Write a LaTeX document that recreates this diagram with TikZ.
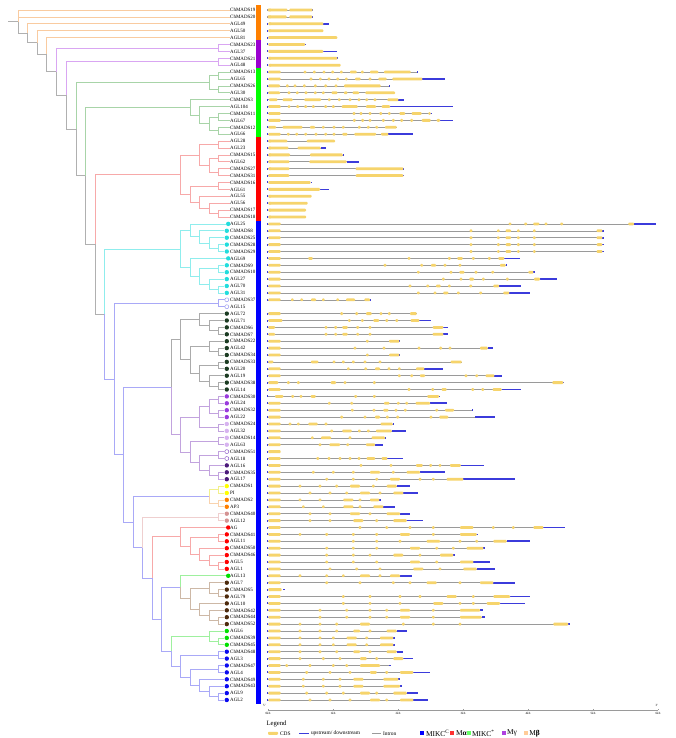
\documentclass[tikz,border=0pt]{standalone}
\usepackage{fontspec}
\setmainfont{Liberation Serif}
\definecolor{tGray}{HTML}{B0B0B0}
\definecolor{tOr}{HTML}{F9CBA0}
\definecolor{tPu}{HTML}{D9A6F2}
\definecolor{tGr}{HTML}{A8D4A8}
\definecolor{tRe}{HTML}{F7A9A9}
\definecolor{tCy}{HTML}{8FEDED}
\definecolor{tBl}{HTML}{A9A9F7}
\definecolor{tDg}{HTML}{ABABAB}
\definecolor{tEp}{HTML}{C2A3DE}
\definecolor{tYe}{HTML}{F2F08C}
\definecolor{tOrb}{HTML}{F9D3AE}
\definecolor{tPk}{HTML}{EFCFCF}
\definecolor{tBr}{HTML}{CDB8A6}
\definecolor{tGrb}{HTML}{9EF09E}
\definecolor{oCy}{HTML}{22DDDD}
\definecolor{oDg}{HTML}{1B3B22}
\definecolor{oPu}{HTML}{9A3BDD}
\definecolor{oLa}{HTML}{D7B3F0}
\definecolor{oDp}{HTML}{4B1A7A}
\definecolor{oYe}{HTML}{FFFF00}
\definecolor{oOr}{HTML}{FF8000}
\definecolor{oRo}{HTML}{D49393}
\definecolor{oRe}{HTML}{FF0000}
\definecolor{oGr}{HTML}{00E000}
\definecolor{oBr}{HTML}{4D2A0C}
\definecolor{oBl}{HTML}{0A0AF0}
\definecolor{oOl}{HTML}{9C9CF0}
\definecolor{oOp}{HTML}{8E5CC8}
\definecolor{exonC}{HTML}{F6D46C}
\definecolor{utrC}{HTML}{3B3BDB}
\definecolor{intronC}{HTML}{9A9A9A}
\definecolor{barOr}{HTML}{FF8000}
\definecolor{barPu}{HTML}{9B00D0}
\definecolor{barGr}{HTML}{00FF00}
\definecolor{barRe}{HTML}{FF0000}
\definecolor{barBl}{HTML}{0000FF}
\definecolor{lgBl}{HTML}{0000FF}
\definecolor{lgRe}{HTML}{FF3030}
\definecolor{lgGr}{HTML}{66FF66}
\definecolor{lgPu}{HTML}{B040E0}
\definecolor{lgPe}{HTML}{FFCC99}
\tikzset{
  trl/.style={line width=0.75pt},
  gry/.style={trl,draw=tGray},
  orE/.style={trl,draw=tOr},
  puE/.style={trl,draw=tPu},
  grE/.style={trl,draw=tGr},
  reE/.style={trl,draw=tRe},
  cyE/.style={trl,draw=tCy},
  blE/.style={trl,draw=tBl},
  dgE/.style={trl,draw=tDg},
  epE/.style={trl,draw=tEp},
  yeE/.style={trl,draw=tYe},
  orbE/.style={trl,draw=tOrb},
  pkE/.style={trl,draw=tPk},
  brE/.style={trl,draw=tBr},
  grbE/.style={trl,draw=tGrb},
  lab/.style={anchor=west,inner sep=0.4pt,font=\fontsize{5}{5}\selectfont,text=black},
  leafdot/.style={circle,inner sep=0pt,minimum size=4.4pt,draw=none},
  dcy/.style={fill=oCy}, ddg/.style={fill=oDg}, dpu/.style={fill=oPu},
  dla/.style={fill=oLa}, ddp/.style={fill=oDp}, dye/.style={fill=oYe},
  dor/.style={fill=oOr}, dro/.style={fill=oRo}, dre/.style={fill=oRe},
  dgr/.style={fill=oGr}, dbr/.style={fill=oBr}, dbl/.style={fill=oBl},
  dol/.style={fill=white,draw=oOl,line width=0.5pt,minimum size=4pt},
  dop/.style={fill=white,draw=oOp,line width=0.5pt,minimum size=4pt},
  exon/.style={fill=exonC,rounded corners=0.9pt},
  utr/.style={fill=utrC},
  intron/.style={draw=intronC,line width=0.6pt},
  small/.style={inner sep=0.3pt,font=\fontsize{3.2}{3.2}\selectfont},
  legs/.style={anchor=west,inner sep=0.3pt,font=\fontsize{5.4}{5.4}\selectfont},
  legb/.style={anchor=west,inner sep=0.3pt,font=\fontsize{7.4}{7.4}\selectfont},
}
\newcommand\G[5]{%
  \pgfmathsetmacro\gy{-(10+(#1-1)*6.9)}%
  \begin{scope}[shift={(260,\gy)},xscale=1/3]
    \draw[intron] (25,0) -- (#2,0);
    \foreach \a/\b in {#5} {\fill[utr] (\a,-0.85) rectangle (\b,0.85);}
    \fill[utr] (21,-1) rectangle (25,1);
    \foreach \a/\b in {#3} {\fill[exon] (\a,-1.4) rectangle (\b,1.4);}
    \foreach \d in {#4} {\fill[exon] (\d-4,-1.4) rectangle (\d+4,1.4);}
  \end{scope}}
\begin{document}
\begin{tikzpicture}[x=1pt,y=1pt]
\useasboundingbox (0,0) rectangle (676,-738);
\fill[white] (0,0) rectangle (676,-738);
% labels
\foreach \n [count=\i] in {ChMADS19,ChMADS20,AGL49,AGL50,AGL81,ChMADS23,AGL37,ChMADS21,AGL48,ChMADS13,AGL65,ChMADS26,AGL30,ChMADS3,AGL104,ChMADS11,AGL67,ChMADS12,AGL66,AGL28,AGL23,ChMADS15,AGL62,ChMADS27,ChMADS31,ChMADS16,AGL61,AGL55,AGL56,ChMADS17,ChMADS18,AGL25,ChMADS8,ChMADS25,ChMADS28,ChMADS29,AGL69,ChMADS9,ChMADS10,AGL27,AGL70,AGL31,ChMADS37,AGL15,AGL72,AGL71,ChMADS6,ChMADS7,ChMADS22,AGL42,ChMADS34,ChMADS33,AGL20,AGL19,ChMADS38,AGL14,ChMADS30,AGL24,ChMADS32,AGL22,ChMADS24,AGL32,ChMADS14,AGL63,ChMADS51,AGL18,AGL16,ChMADS35,AGL17,ChMADS1,PI,ChMADS2,AP3,ChMADS40,AGL12,AG,ChMADS41,AGL11,ChMADS50,ChMADS46,AGL5,AGL1,AGL13,AGL7,ChMADS5,AGL79,AGL10,ChMADS42,ChMADS44,ChMADS52,AGL6,ChMADS39,ChMADS45,ChMADS48,AGL3,ChMADS47,AGL4,ChMADS49,ChMADS43,AGL9,AGL2}{
  \pgfmathsetmacro\yy{-(10+(\i-1)*6.9)}
  \node[lab] (L\i) at (229.6,\yy) {\n};
}
% leaf dots
\foreach \a/\b/\s in {32/42/dcy,43/44/dol,45/56/ddg,57/60/dpu,61/64/dla,65/66/dop,67/69/ddp,70/71/dye,72/73/dor,74/75/dro,76/82/dre,83/83/dgr,84/90/dbr,91/93/dgr,94/101/dbl}{
  \foreach \i in {\a,...,\b}{
    \pgfmathsetmacro\yy{-(10+(\i-1)*6.9)}
    \pgfmathsetmacro\xx{(\i==32 || \i==37 || \i==76 || \i==83) ? 228.2 : 226.8}
    \node[leafdot,\s] (o\i) at (\xx,\yy) {};
  }
}
% internal nodes
\coordinate (Rs) at (8.3,-21.7);
\coordinate (R0) at (18.3,-21.7);
\coordinate (Na) at (27.7,-33.25);
\coordinate (Nb) at (37.3,-42.7);
\coordinate (Nc) at (46.7,-54.65);
\coordinate (Nd) at (56.7,-71.7);
\coordinate (P1) at (218.3,-47.95);
\coordinate (Ne) at (66.7,-95.4);
\coordinate (P2) at (218.3,-61.75);
\coordinate (Nf) at (76,-129.1);
\coordinate (G1) at (209.3,-82.45);
\coordinate (g1a) at (218.3,-75.55);
\coordinate (g1b) at (218.3,-89.35);
\coordinate (Ng) at (85.7,-175.8);
\coordinate (G2) at (190,-107.45);
\coordinate (G2b) at (199.3,-115.2);
\coordinate (G2c) at (209.3,-123.85);
\coordinate (g2a) at (218.3,-116.95);
\coordinate (g2b) at (218.3,-130.75);
\coordinate (Nh) at (95,-244.2);
\coordinate (R) at (180,-174.5);
\coordinate (R1) at (199.3,-154.9);
\coordinate (r1) at (218.3,-144.55);
\coordinate (R1b) at (209.3,-165.25);
\coordinate (r2) at (218.3,-158.35);
\coordinate (r3) at (218.3,-172.15);
\coordinate (R2) at (190,-194.15);
\coordinate (r4) at (218.3,-185.95);
\coordinate (R2b) at (199.3,-202.34);
\coordinate (R2c) at (209.3,-208.38);
\coordinate (r5) at (218.3,-213.55);
\coordinate (Ni) at (104.3,-313.9);
\coordinate (Cy) at (180,-248.9);
\coordinate (C1) at (190,-230.37);
\coordinate (C1b) at (199.3,-236.84);
\coordinate (C1c) at (209.3,-242.88);
\coordinate (c1) at (218.3,-248.05);
\coordinate (C2) at (190,-267.46);
\coordinate (C2b) at (199.3,-276.51);
\coordinate (c2) at (218.3,-268.75);
\coordinate (C2c) at (209.3,-284.28);
\coordinate (c3) at (218.3,-289.45);
\coordinate (Nj) at (114,-378.91);
\coordinate (c4) at (218.3,-303.25);
\coordinate (Nk) at (123.3,-454.57);
\coordinate (Nl) at (171,-387.13);
\coordinate (D) at (180,-339.69);
\coordinate (D1) at (199.3,-319.64);
\coordinate (D1b) at (209.3,-325.68);
\coordinate (d1) at (218.3,-330.85);
\coordinate (D2) at (190,-359.74);
\coordinate (D2a) at (209.3,-346.38);
\coordinate (d2) at (218.3,-351.55);
\coordinate (D2b) at (199.3,-373.11);
\coordinate (d3) at (218.3,-365.35);
\coordinate (D2c) at (209.3,-380.88);
\coordinate (d4) at (218.3,-386.05);
\coordinate (E) at (180,-434.57);
\coordinate (E1) at (199.3,-417.1);
\coordinate (E1a) at (209.3,-406.75);
\coordinate (e1) at (218.3,-399.85);
\coordinate (e2) at (218.3,-413.65);
\coordinate (e3) at (218.3,-427.45);
\coordinate (E2) at (190,-452.03);
\coordinate (e4) at (218.3,-441.25);
\coordinate (E2b) at (199.3,-462.81);
\coordinate (e5) at (218.3,-455.05);
\coordinate (E2c) at (209.3,-470.58);
\coordinate (e6) at (218.3,-475.75);
\coordinate (Nm) at (133.3,-522.01);
\coordinate (F) at (209.3,-496.45);
\coordinate (f1) at (218.3,-489.55);
\coordinate (f2) at (218.3,-503.35);
\coordinate (Nn) at (142.7,-547.57);
\coordinate (f3) at (218.3,-517.15);
\coordinate (No) at (152.3,-577.98);
\coordinate (H) at (180,-536.77);
\coordinate (H2) at (190,-546.04);
\coordinate (h1) at (218.3,-537.85);
\coordinate (H3) at (199.3,-554.24);
\coordinate (H4) at (209.3,-560.28);
\coordinate (h2) at (218.3,-565.45);
\coordinate (Np) at (161.7,-619.2);
\coordinate (I) at (180,-587.23);
\coordinate (I2) at (190,-598.66);
\coordinate (I2a) at (209.3,-587.88);
\coordinate (i1) at (218.3,-593.05);
\coordinate (I2b) at (199.3,-609.44);
\coordinate (I2c) at (209.3,-615.48);
\coordinate (i2) at (218.3,-620.65);
\coordinate (Nq) at (171,-651.16);
\coordinate (J) at (209.3,-636.18);
\coordinate (j1) at (218.3,-641.35);
\coordinate (K) at (180,-666.15);
\coordinate (k1) at (218.3,-655.15);
\coordinate (K2) at (190,-677.14);
\coordinate (k2) at (218.3,-668.95);
\coordinate (K3) at (199.3,-685.34);
\coordinate (K4) at (209.3,-691.38);
\coordinate (k3) at (218.3,-696.55);
% tree edges
\draw[gry] (Rs) -- (R0);
\draw[orE] (R0) |- (L1) (R0) |- (L2) (Na) |- (L3) (Nb) |- (L4) (Nc) |- (L5);
\draw[gry] (R0) |- (Na) (Na) |- (Nb) (Nb) |- (Nc) (Nc) |- (Nd) (Nd) |- (Ne) (Ne) |- (Nf) (Nf) |- (Ng) (Ng) |- (Nh) (Nh) |- (Ni);
\draw[puE] (Nd) |- (P1) (P1) |- (L6) (P1) |- (L7) (Ne) |- (P2) (P2) |- (L8) (P2) |- (L9);
\draw[grE] (Nf) |- (G1) (G1) |- (g1a) (G1) |- (g1b) (g1a) |- (L10) (g1a) |- (L11) (g1b) |- (L12) (g1b) |- (L13);
\draw[grE] (Ng) |- (G2) (G2) |- (L14) (G2) |- (G2b) (G2b) |- (L15) (G2b) |- (G2c) (G2c) |- (g2a) (G2c) |- (g2b) (g2a) |- (L16) (g2a) |- (L17) (g2b) |- (L18) (g2b) |- (L19);
\draw[reE] (Nh) |- (R) (R) |- (R1) (R) |- (R2) (R1) |- (r1) (R1) |- (R1b) (r1) |- (L20) (r1) |- (L21) (R1b) |- (r2) (R1b) |- (r3) (r2) |- (L22) (r2) |- (L23) (r3) |- (L24) (r3) |- (L25) (R2) |- (r4) (R2) |- (R2b) (r4) |- (L26) (r4) |- (L27) (R2b) |- (L28) (R2b) |- (R2c) (R2c) |- (L29) (R2c) |- (r5) (r5) |- (L30) (r5) |- (L31);
\draw[cyE] (Ni) |- (Cy) (Cy) |- (C1) (Cy) |- (C2) (C1) |- (o32) (C1) |- (C1b) (C1b) |- (o33) (C1b) |- (C1c) (C1c) |- (o34) (C1c) |- (c1) (c1) |- (o35) (c1) |- (o36) (C2) |- (o37) (C2) |- (C2b) (C2b) |- (c2) (C2b) |- (C2c) (c2) |- (o38) (c2) |- (o39) (C2c) |- (o40) (C2c) |- (c3) (c3) |- (o41) (c3) |- (o42);
\draw[blE] (Ni) |- (Nj) (Nj) |- (c4) (c4) |- (o43) (c4) |- (o44) (Nj) |- (Nk) (Nk) |- (Nl) (Nk) |- (Nm);
\draw[dgE] (Nl) |- (D) (D) |- (D1) (D) |- (D2) (D1) |- (o45) (D1) |- (D1b) (D1b) |- (o46) (D1b) |- (d1) (d1) |- (o47) (d1) |- (o48) (D2) |- (D2a) (D2) |- (D2b) (D2a) |- (o49) (D2a) |- (d2) (d2) |- (o50) (d2) |- (o51) (D2b) |- (d3) (D2b) |- (D2c) (d3) |- (o52) (d3) |- (o53) (D2c) |- (o54) (D2c) |- (d4) (d4) |- (o55) (d4) |- (o56);
\draw[epE] (Nl) |- (E) (E) |- (E1) (E) |- (E2) (E1) |- (E1a) (E1) |- (e3) (E1a) |- (e1) (E1a) |- (e2) (e1) |- (o57) (e1) |- (o58) (e2) |- (o59) (e2) |- (o60) (e3) |- (o61) (e3) |- (o62) (E2) |- (e4) (E2) |- (E2b) (e4) |- (o63) (e4) |- (o64) (E2b) |- (e5) (E2b) |- (E2c) (e5) |- (o65) (e5) |- (o66) (E2c) |- (o67) (E2c) |- (e6) (e6) |- (o68) (e6) |- (o69);
\draw[blE] (Nm) |- (F) (Nm) |- (Nn) (Nn) |- (No) (No) |- (Np) (Np) |- (I) (Np) |- (Nq) (Nq) |- (K);
\draw[yeE] (F) |- (f1) (f1) |- (o70) (f1) |- (o71);
\draw[orbE] (F) |- (f2) (f2) |- (o72) (f2) |- (o73);
\draw[pkE] (Nn) |- (f3) (f3) |- (o74) (f3) |- (o75);
\draw[reE] (No) |- (H) (H) |- (o76) (H) |- (H2) (H2) |- (h1) (H2) |- (H3) (h1) |- (o77) (h1) |- (o78) (H3) |- (o79) (H3) |- (H4) (H4) |- (o80) (H4) |- (h2) (h2) |- (o81) (h2) |- (o82);
\draw[grbE] (I) |- (o83);
\draw[brE] (I) |- (I2) (I2) |- (I2a) (I2) |- (I2b) (I2a) |- (o84) (I2a) |- (i1) (i1) |- (o85) (i1) |- (o86) (I2b) |- (o87) (I2b) |- (I2c) (I2c) |- (o88) (I2c) |- (i2) (i2) |- (o89) (i2) |- (o90);
\draw[grbE] (Nq) |- (J) (J) |- (o91) (J) |- (j1) (j1) |- (o92) (j1) |- (o93);
\draw[blE] (K) |- (k1) (K) |- (K2) (k1) |- (o94) (k1) |- (o95) (K2) |- (k2) (K2) |- (K3) (k2) |- (o96) (k2) |- (o97) (K3) |- (o98) (K3) |- (K4) (K4) |- (o99) (K4) |- (k3) (k3) |- (o100) (k3) |- (o101);
% group bar
\fill[barOr] (255.5,-5) rectangle (261,-40.5);
\fill[barPu] (255.5,-40.5) rectangle (261,-68.5);
\fill[barGr] (255.5,-68.5) rectangle (261,-137.5);
\fill[barRe] (255.5,-137.5) rectangle (261,-220.5);
\fill[barBl] (255.5,-220.5) rectangle (261,-703.5);
% gene structures
\G{1}{158}{22/82,88/158}{30}{157/160}
\G{2}{157}{22/80,88/157}{30}{156/159}
\G{3}{25}{25/190}{30}{190/208}
\G{4}{25}{25/190}{30}{25/25}
\G{5}{25}{25/232}{30}{25/25}
\G{6}{25}{25/135}{30}{135/138}
\G{7}{25}{25/190}{30}{190/232}
\G{8}{25}{25/232}{30}{232/235}
\G{9}{25}{27/242}{30}{25/25}
\G{10}{472}{25/62,270/290,330/355,372/452}{135,163,192,218,244,307}{470/474}
\G{11}{555}{25/62,285/302,355/380,397/487}{153,181,207,233,259,330}{487/555}
\G{12}{388}{25/60,252/362}{82,105,133,166,197,228}{386/390}
\G{13}{405}{25/60,215/232,252/262,278/297,316/405}{87,112,138,166,190}{25/25}
\G{14}{432}{27/52,68/98,133/183,382/415}{208,238,270,297,320,345}{415/432}
\G{15}{578}{25/62,245/293,318/348,365/390}{87,113,137,160,197,220}{390/578}
\G{16}{515}{25/62,418/435,455/485,505/512}{282,303,330,362,388}{512/517}
\G{17}{578}{25/62,485/512,530/540}{283,308,330,370,400,425,455}{540/578}
\G{18}{410}{25/48,68/127,150/165,375/410}{190,222,250,298,325,350}{25/25}
\G{19}{458}{25/62,247/262,283/348,363/385}{85,110,137,168,197,222}{385/458}
\G{20}{225}{25/82,140/225}{30}{25/25}
\G{21}{198}{25/85,113/182}{30}{182/198}
\G{22}{250}{25/90,150/248}{30}{248/251}
\G{23}{297}{25/88,148/260}{30}{260/297}
\G{24}{432}{25/88,287/430}{30}{430/433}
\G{25}{432}{25/88,287/430}{30}{430/433}
\G{26}{25}{25/152}{30}{152/155}
\G{27}{25}{25/180}{30}{180/208}
\G{28}{25}{25/155}{30}{25/25}
\G{29}{25}{25/143}{30}{25/25}
\G{30}{25}{25/138}{30}{25/25}
\G{31}{25}{25/138}{30}{25/25}
\G{32}{1188}{25/62,820/838,1105/1122}{750,797,858,905}{1122/1188}
\G{33}{1032}{25/62,737/753,1010/1027}{633,715,775,823}{1027/1032}
\G{34}{1032}{25/62,737/753,1010/1027}{633,715,775,823}{1027/1032}
\G{35}{1032}{25/62,737/753,1010/1027}{633,715,775,823}{1027/1032}
\G{36}{1032}{25/62,737/753,1010/1027}{633,715,775,823}{1027/1032}
\G{37}{780}{25/62,145/158,592/608,715/733}{447,568,640,688}{733/780}
\G{38}{740}{25/62,513/528,720/737}{375,485,555,600}{737/742}
\G{39}{825}{25/62,598/613,805/820}{475,573,648,698}{820/826}
\G{40}{890}{25/62,628/642,822/840}{550,603,670,742}{840/890}
\G{41}{783}{25/62,528/542,700/717}{450,503,568,632}{717/783}
\G{42}{810}{25/62,550/565,730/748}{475,525,595,662}{748/810}
\G{43}{333}{25/62,153/168,258/285,313/330}{97,125,190,233}{330/334}
\G{45}{470}{25/62,318/335,450/470}{245,290,363,388}{25/25}
\G{46}{512}{25/67,340/357,452/478}{268,307,380,410}{478/512}
\G{47}{565}{25/45,247/263,518/550}{198,227,293,330}{550/565}
\G{48}{565}{25/45,247/263,518/550}{198,227,293,330}{550/565}
\G{49}{418}{25/62,387/418}{322}{418/421}
\G{50}{698}{25/62,660/683}{285,372,477,542,570}{683/698}
\G{51}{418}{25/62,387/418}{322}{418/421}
\G{52}{605}{25/40,153/175,572/605}{222,250,280,315,360}{25/25}
\G{53}{550}{25/62,345/360,468/493}{265,317,387,418}{493/550}
\G{54}{727}{25/62,480/495,677/703}{418,455,618,650}{703/727}
\G{55}{910}{25/55,212/228,877/910}{85,115,255,343}{910/913}
\G{56}{782}{25/62,545/560,698/725}{447,518,638,668}{725/782}
\G{57}{537}{45/70,152/167,502/537}{98,123,287,343}{537/540}
\G{58}{562}{25/62,372/388,467/510}{208,275,415,440}{510/562}
\G{59}{637}{25/62,370/385,555/582}{277,342,408,436,530}{636/639}
\G{60}{705}{25/62,345/360,538/565}{245,315,382,413,513}{645/705}
\G{61}{398}{25/62,145/173,362/398}{90,115,198}{398/401}
\G{62}{437}{25/62,247/275,348/395}{215,298,325}{395/437}
\G{63}{375}{25/62,183/213,335/375}{157,270}{375/378}
\G{64}{368}{25/62,208/240,318/345}{180,263}{345/368}
\G{65}{25}{25/62}{30}{25/25}
\G{66}{430}{25/62,320/345,365/382}{173,207,240,270,297}{382/430}
\G{67}{672}{25/62,468/488,570/602}{303,393,512,540}{602/672}
\G{68}{555}{25/62,330/360,440/480}{160,220,280,400}{480/555}
\G{69}{765}{25/62,390/420,560/610}{200,280,350,480,520}{610/765}
\G{70}{450}{25/62,270/300,380/410}{120,180,230,340}{410/450}
\G{71}{475}{25/62,300/330,400/430}{150,210,260,360}{430/475}
\G{72}{362}{25/62,250/280,330/358}{120,180,300}{358/362}
\G{73}{405}{25/62,250/280,340/370}{130,190,300}{370/405}
\G{74}{450}{25/62,270/300,380/420}{150,210,330}{420/450}
\G{75}{490}{25/62,280/310,400/440}{150,210,350}{440/490}
\G{76}{915}{25/62,600/640,820/850}{300,380,450,520,700,760}{850/915}
\G{77}{655}{25/62,420/450,600/650}{120,200,280,350,520}{650/655}
\G{78}{810}{25/62,500/540,700/740}{280,350,420,600,650}{740/810}
\G{79}{675}{25/62,450/480,620/670}{200,280,350,530,580}{670/675}
\G{80}{585}{25/62,400/430,540/580}{200,280,330,480}{580/585}
\G{81}{690}{25/62,450/480,600/640}{200,280,350,530}{640/690}
\G{82}{705}{25/62,460/490,610/650}{210,290,360,540}{650/705}
\G{83}{456}{25/62,300/330,390/420}{120,200,250,360}{420/456}
\G{84}{765}{25/62,500/530,660/700}{200,300,400,450,600}{700/765}
\G{85}{25}{25/65}{30}{70/76}
\G{86}{810}{25/62,560/590,700/750}{250,330,420,480,640}{750/810}
\G{87}{795}{25/62,520/550,680/720}{250,330,420,600,640}{720/795}
\G{88}{670}{25/62,420/450,600/660}{180,260,330,380,520}{660/670}
\G{89}{675}{25/62,420/450,600/665}{180,260,330,380,520}{665/675}
\G{90}{930}{25/62,300/330,880/925}{120,180,230,430,520,600}{925/930}
\G{91}{440}{25/62,280/300,380/410}{120,180,230,330}{410/440}
\G{92}{405}{25/62,260/290,360/400}{120,180,220,320}{400/405}
\G{93}{405}{25/62,260/290,360/400}{120,180,220,320}{400/405}
\G{94}{430}{25/62,280/300,380/410}{120,180,230,330}{410/430}
\G{95}{460}{25/62,300/320,400/430}{120,190,240,350}{430/460}
\G{96}{392}{25/62,300/360}{80,150,220,260}{388/392}
\G{97}{510}{25/62,330/350,420/460}{140,210,270,380}{460/510}
\G{98}{420}{25/62,280/310,370/415}{130,190,240}{415/420}
\G{99}{427}{25/62,280/310,370/420}{130,190,240}{420/427}
\G{100}{474}{25/62,300/330,400/440}{140,200,250,350}{440/474}
\G{101}{504}{25/62,330/360,420/460}{150,210,270,380}{460/504}
% axis
\draw[intronC,line width=0.5pt] (268,-710) -- (658,-710);
\foreach \k in {0,...,6}{
  \draw[intronC,line width=0.4pt] (268+65*\k,-710) -- ++(0,1.2);
  \node[small] (t\k) at (268+65*\k,-713.4) {\k kb};
}
\node[small] (five) at (264.5,-705.6) {5'};
\node[small] (three) at (657,-705.6) {3'};
% legend
\node[anchor=west,inner sep=0.3pt,font=\fontsize{6.7}{6.7}\selectfont] (legT) at (266,-724) {Legend};
\fill[exon] (268,-734.8) rectangle (278,-731.8);
\node[legs] (lgCDS) at (279.5,-733.3) {CDS};
\fill[utr] (299,-734) rectangle (309,-732.6);
\node[legs] (lgUTR) at (310.5,-733.3) {upstream/ downstream};
\draw[intron] (372,-733.3) -- (381,-733.3);
\node[legs] (lgInt) at (382.5,-733.3) {Intron};
\fill[lgBl] (420,-735.4) rectangle (424.4,-731);
\node[legb] (lgA) at (425.5,-733.3) {MIKC\textsuperscript{C}};
\fill[lgRe] (450,-735.4) rectangle (454.4,-731);
\node[legb] (lgB) at (455.5,-733.3) {M\textbf{α}};
\fill[lgGr] (467,-735.4) rectangle (471.4,-731);
\node[legb] (lgC) at (471.6,-733.3) {MIKC\textsuperscript{*}};
\fill[lgPu] (501.5,-735.4) rectangle (505.9,-731);
\node[legb] (lgD) at (506.5,-733.3) {Mγ};
\fill[lgPe] (523.5,-735.4) rectangle (527.9,-731);
\node[legb] (lgE) at (528.8,-733.3) {M\textbf{β}};
\end{tikzpicture}
\end{document}
